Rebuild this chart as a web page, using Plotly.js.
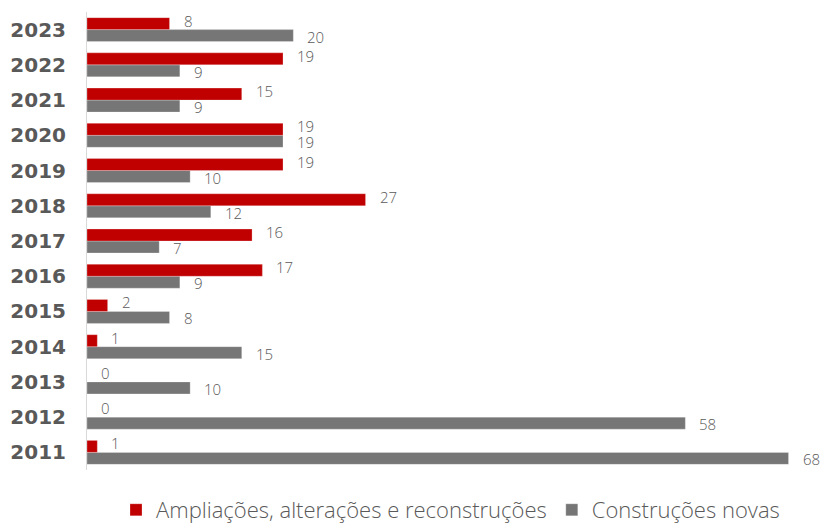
<!DOCTYPE html>
<html>
<head>
<meta charset="utf-8">
<script src="https://cdn.plot.ly/plotly-3.0.1.min.js"></script>
<style>html,body{margin:0;padding:0;background:#fff;}#chart{width:824px;height:531px;}</style>
</head>
<body>
<div id="chart"></div>
<script>
const years = ['2011','2012','2013','2014','2015','2016','2017','2018','2019','2020','2021','2022','2023'];
const ampliacoes = [1, 0, 0, 1, 2, 17, 16, 27, 19, 19, 15, 19, 8];
const construcoes = [68, 58, 10, 15, 8, 9, 7, 12, 10, 19, 9, 9, 20];
const seriesNames = ['Ampliações, alterações e reconstruções', 'Construções novas'];
const colors = ['#C00000', '#767676'];

const labelFont = {family: '"Open Sans", Lato, sans-serif', size: 15, color: '#595959', weight: 300};

const traces = [
  {type: 'bar', orientation: 'h', name: seriesNames[1], y: years, x: construcoes,
   marker: {color: colors[1], line: {color: 'rgba(255,255,255,0.5)', width: 0.5}}, hoverinfo: 'skip'},
  {type: 'bar', orientation: 'h', name: seriesNames[0], y: years, x: ampliacoes,
   marker: {color: colors[0], line: {color: 'rgba(255,255,255,0.5)', width: 0.5}}, hoverinfo: 'skip'}
];

const annotations = [];
years.forEach((yr, i) => {
  annotations.push({x: ampliacoes[i], y: i, xref: 'x', yref: 'y', text: String(ampliacoes[i]),
    showarrow: false, xanchor: 'left', yanchor: 'middle', xshift: 12, yshift: 9, font: labelFont});
  annotations.push({x: construcoes[i], y: i, xref: 'x', yref: 'y', text: String(construcoes[i]),
    showarrow: false, xanchor: 'left', yanchor: 'middle', xshift: 12, yshift: -7, font: labelFont});
});

const layout = {
  width: 824, height: 531,
  margin: {l: 87, r: 10, t: 12, b: 61, pad: 0},
  paper_bgcolor: '#ffffff', plot_bgcolor: '#ffffff',
  barmode: 'group', bargap: 0.32, bargroupgap: 0,
  showlegend: true,
  legend: {orientation: 'h', x: 0.5, xanchor: 'center', xref: 'paper', y: -0.015, yref: 'container', yanchor: 'bottom',
    traceorder: 'reversed', font: {family: '"Open Sans", Lato, sans-serif', size: 22, color: '#595959', weight: 300},
    itemwidth: 30, bgcolor: 'rgba(0,0,0,0)'},
  xaxis: {range: [0, 70.47], autorange: false, visible: false, showgrid: false, zeroline: false, fixedrange: true},
  yaxis: {type: 'category', categoryorder: 'array', categoryarray: years,
    range: [-0.5, years.length - 0.5], autorange: false,
    showgrid: false, zeroline: false, showline: true, linecolor: '#d9d9d9', linewidth: 1,
    ticks: '', ticklabelstandoff: 16,
    tickfont: {family: '"DejaVu Sans", Verdana, sans-serif', size: 20, color: '#595959', weight: 'bold'},
    fixedrange: true},
  annotations: annotations,
  font: {family: '"Open Sans", sans-serif', color: '#595959'}
};

Plotly.newPlot('chart', traces, layout, {displayModeBar: false, staticPlot: true});
</script>
</body>
</html>
